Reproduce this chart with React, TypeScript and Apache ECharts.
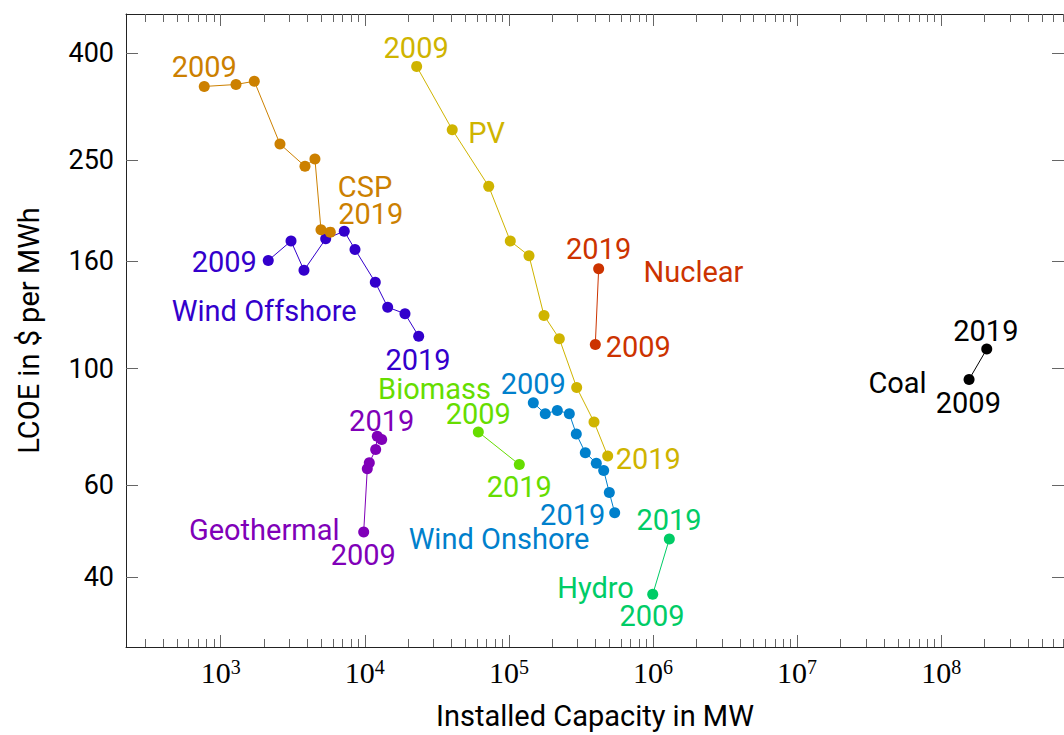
import React, { useEffect, useRef } from "react";
import * as echarts from "echarts";

// Installed capacity (MW) and levelized cost of energy ($/MWh), 2009 → 2019
const cspCapacity = [769, 1277, 1711, 2579, 3846, 4508, 4966, 5763];
const cspLcoe = [345, 348, 353, 268, 243, 251, 184, 182];

const windOffshoreCapacity = [2139, 3077, 3785, 5355, 7204, 8552, 11827, 14418, 19010, 23660];
const windOffshoreLcoe = [160.7, 175, 153.9, 176.7, 182.7, 168.7, 146, 130.9, 127.2, 115.2];

const pvCapacity = [22910, 40450, 72440, 102250, 137900, 175200, 223800, 295400, 389600, 484900];
const pvLcoe = [376.8, 285.4, 222.5, 175, 164.1, 126.2, 114, 92, 79.1, 68.1];

const nuclearCapacity = [397800, 419700];
const nuclearLcoe = [111.1, 155];

const windOnshoreCapacity = [147700, 178800, 216700, 262600, 293600, 339000, 404200, 454900, 497500, 542200];
const windOnshoreLcoe = [86, 82, 83.2, 82, 75, 69.1, 66, 63.9, 58, 53.1];

const biomassCapacity = [61330, 118100];
const biomassLcoe = [75.7, 65.6];

const geothermalCapacity = [9827, 10410, 10750, 11900, 12210, 13100];
const geothermalLcoe = [48.8, 64.4, 66.1, 70.1, 74.3, 73.2];

const hydroCapacity = [995500, 1298000];
const hydroLcoe = [37.1, 47.3];

const coalCapacity = [1.56e8, 2.07e8];
const coalLcoe = [95.3, 108.9];

const firstYear = "2009";
const lastYear = "2019";

const yTickValues = [40, 60, 100, 160, 250, 400];
const xDecades = [3, 4, 5, 6, 7, 8];

// axis extents (log10 units)
const X_MIN = 2.343;
const X_MAX = 8.852;
const Y_MIN = 1.469;
const Y_MAX = 2.676;

const FONT = "Roboto";
const FONT_SIZE = 29;

type Tech = {
  name: string;
  color: string;
  cap: number[];
  lcoe: number[];
  firstOffset: number[];
  lastOffset: number[];
  nameAt: "first" | "last" | number;
  nameOffset: number[];
};

const techs: Tech[] = [
  { name: "Coal", color: "#000000", cap: coalCapacity, lcoe: coalLcoe,
    firstOffset: [-0.7, 21.5], lastOffset: [-0.9, -20.4], nameAt: "first", nameOffset: [-71.5, 1.4] },
  { name: "Hydro", color: "#00cc66", cap: hydroCapacity, lcoe: hydroLcoe,
    firstOffset: [-0.7, 20], lastOffset: [-0.3, -21], nameAt: "first", nameOffset: [-57.2, -8.8] },
  { name: "Geothermal", color: "#8000b8", cap: geothermalCapacity, lcoe: geothermalLcoe,
    firstOffset: [-0.4, 21.2], lastOffset: [0, -20.4], nameAt: "first", nameOffset: [-99.5, -4.3] },
  { name: "Biomass", color: "#66dd00", cap: biomassCapacity, lcoe: biomassLcoe,
    firstOffset: [0, -20.3], lastOffset: [0, 20.6], nameAt: "first", nameOffset: [-43.8, -44.5] },
  { name: "Wind Onshore", color: "#0080cc", cap: windOnshoreCapacity, lcoe: windOnshoreLcoe,
    firstOffset: [0, -20.5], lastOffset: [-42, 0.4], nameAt: "last", nameOffset: [-115.7, 24.2] },
  { name: "Nuclear", color: "#cc3300", cap: nuclearCapacity, lcoe: nuclearLcoe,
    firstOffset: [43, 0.7], lastOffset: [0, -21.7], nameAt: "last", nameOffset: [94.8, 1] },
  { name: "PV", color: "#cfb400", cap: pvCapacity, lcoe: pvLcoe,
    firstOffset: [-0.5, -20.4], lastOffset: [40.6, 1], nameAt: 1, nameOffset: [34.4, 1] },
  { name: "Wind Offshore", color: "#3300cc", cap: windOffshoreCapacity, lcoe: windOffshoreLcoe,
    firstOffset: [-44, 0], lastOffset: [-0.7, 21.3], nameAt: "first", nameOffset: [-4, 48.5] },
  { name: "CSP", color: "#cc8000", cap: cspCapacity, lcoe: cspLcoe,
    firstOffset: [0, -21], lastOffset: [40.5, -19.7], nameAt: "last", nameOffset: [34.7, -47.3] },
];

// minor ticks at 2..9 × 10^n inside the visible range
const minorX: number[] = [];
for (let d = 2; d <= 8; d++) {
  for (let k = 2; k <= 9; k++) {
    const v = d + Math.log10(k);
    if (v > X_MIN && v < X_MAX) minorX.push(v);
  }
}
const yTicksLog = yTickValues.map((v) => Math.log10(v));

const FRAME = { color: "#222222", width: 1 };
const TICK = { color: "#666666", width: 1 };

function buildOption() {
  const series: any[] = [];
  const labelShift = 2;
  techs.forEach((t) => {
    const pts = t.cap.map((c, i) => [Math.log10(c), Math.log10(t.lcoe[i])]);
    series.push({
      type: "line",
      name: t.name,
      data: pts,
      symbol: "circle",
      symbolSize: 11,
      showSymbol: true,
      lineStyle: { width: 1, color: t.color },
      itemStyle: { color: t.color, opacity: 1 },
      xAxisIndex: 0,
      yAxisIndex: 0,
      silent: true,
    });
    const last = pts.length - 1;
    const nameIdx = t.nameAt === "first" ? 0 : t.nameAt === "last" ? last : t.nameAt;
    const lbl = (p: number[], text: string, off: number[]) => ({
      value: p,
      label: { formatter: text, offset: [off[0], off[1] + labelShift] },
    });
    series.push({
      type: "scatter",
      name: t.name + "-labels",
      data: [
        lbl(pts[0], firstYear, t.firstOffset),
        lbl(pts[last], lastYear, t.lastOffset),
        lbl(pts[nameIdx], t.name, t.nameOffset),
      ],
      symbolSize: 1,
      itemStyle: { color: "rgba(0,0,0,0)", opacity: 1 },
      label: {
        show: true,
        position: "inside",
        align: "center",
        verticalAlign: "middle",
        color: t.color,
        opacity: 1,
        textBorderWidth: 0,
        textBorderColor: "transparent",
        fontFamily: FONT,
        fontSize: FONT_SIZE,
      },
      silent: true,
      xAxisIndex: 0,
      yAxisIndex: 0,
      z: 5,
    });
  });

  const baseX = { type: "value", min: X_MIN, max: X_MAX, splitLine: { show: false } };
  const baseY = { type: "value", min: Y_MIN, max: Y_MAX, splitLine: { show: false } };

  return {
    animation: false,
    backgroundColor: "#ffffff",
    textStyle: { fontFamily: FONT },
    grid: { left: 126, top: 14, right: 0, bottom: 85, containLabel: false },
    xAxis: [
      {
        ...baseX,
        position: "bottom",
        axisLine: { show: true, onZero: false, lineStyle: FRAME },
        axisTick: { show: true, inside: true, length: 12, customValues: xDecades, lineStyle: TICK },
        axisLabel: {
          show: true,
          customValues: xDecades,
          margin: 10,
          formatter: (v: number) => `{b|10}{s|${Math.round(v)}}`,
          rich: {
            b: { fontFamily: "Liberation Serif", fontSize: 30, color: "#000000" },
            s: { fontFamily: "Liberation Serif", fontSize: 20, color: "#000000", verticalAlign: "top" },
          },
        },
        name: "Installed Capacity in MW",
        nameLocation: "middle",
        nameGap: 54,
        nameTextStyle: { fontFamily: FONT, fontSize: FONT_SIZE, color: "#000000" },
      },
      {
        ...baseX,
        position: "bottom",
        axisLine: { show: false },
        axisTick: { show: true, inside: true, length: 8, customValues: minorX, lineStyle: TICK },
        axisLabel: { show: false },
      },
      {
        ...baseX,
        position: "top",
        axisLine: { show: true, onZero: false, lineStyle: FRAME },
        axisTick: { show: true, inside: true, length: 12, customValues: xDecades, lineStyle: TICK },
        axisLabel: { show: false },
      },
      {
        ...baseX,
        position: "top",
        axisLine: { show: false },
        axisTick: { show: true, inside: true, length: 8, customValues: minorX, lineStyle: TICK },
        axisLabel: { show: false },
      },
    ],
    yAxis: [
      {
        ...baseY,
        position: "left",
        axisLine: { show: true, onZero: false, lineStyle: FRAME },
        axisTick: { show: true, inside: true, length: 12, customValues: yTicksLog, lineStyle: TICK },
        axisLabel: {
          show: true,
          customValues: yTicksLog,
          margin: 12,
          formatter: (v: number) => String(Math.round(Math.pow(10, v))),
          fontFamily: FONT,
          fontSize: 27,
          color: "#000000",
        },
        name: "LCOE in $ per MWh",
        nameLocation: "middle",
        nameRotate: 90,
        nameGap: 83,
        nameTextStyle: { fontFamily: FONT, fontSize: FONT_SIZE, color: "#000000" },
      },
      {
        ...baseY,
        position: "right",
        axisLine: { show: true, onZero: false, lineStyle: FRAME },
        axisTick: { show: true, inside: true, length: 12, customValues: yTicksLog, lineStyle: TICK },
        axisLabel: { show: false },
      },
    ],
    series,
  };
}

export default function App() {
  const ref = useRef<HTMLDivElement>(null);
  useEffect(() => {
    if (!ref.current) return;
    const chart = echarts.init(ref.current, undefined, { renderer: "svg" });
    chart.setOption(buildOption() as any);
    return () => chart.dispose();
  }, []);
  return (
    <div
      ref={ref}
      style={{ position: "absolute", left: 0, top: 0, width: 1064, height: 735, background: "#fff" }}
    />
  );
}
